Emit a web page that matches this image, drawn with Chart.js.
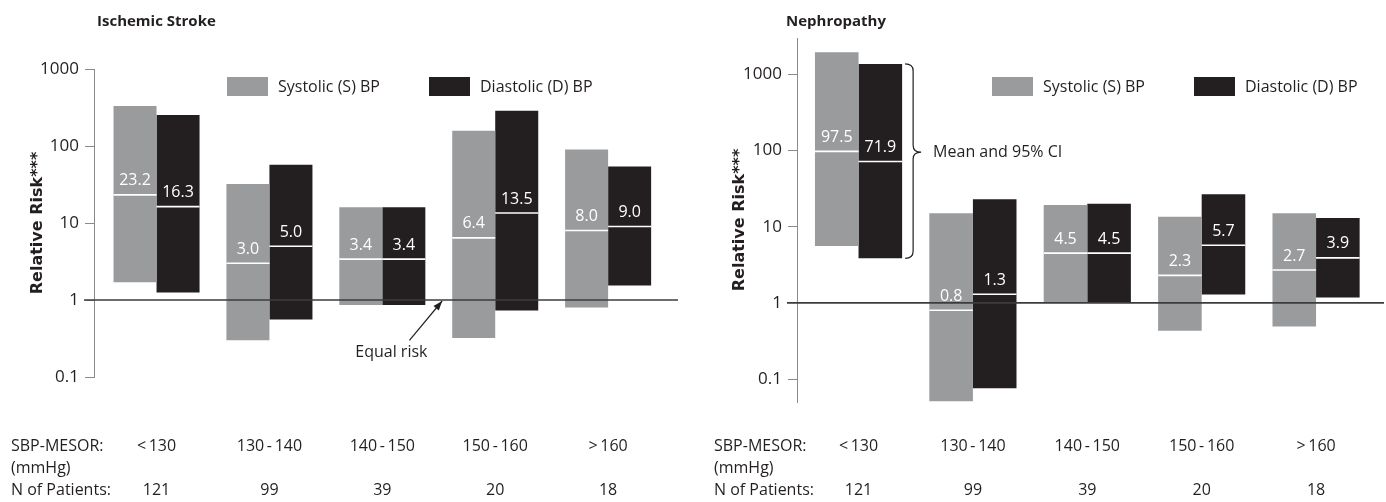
<!DOCTYPE html>
<html>
<head>
<meta charset="utf-8">
<script src="https://cdn.jsdelivr.net/npm/chart.js@4.4.1/dist/chart.umd.min.js"></script>
<style>
  html, body { margin: 0; padding: 0; background: #fff; }
  .fila { display: flex; width: 1386px; height: 502px; }
  canvas { display: block; }
</style>
</head>
<body>
<div class="fila">
  <canvas id="graficoIctus" width="693" height="502"></canvas>
  <canvas id="graficoNefro" width="693" height="502"></canvas>
</div>
<script>
// datos
const categorias = ['<\u2009130', '130\u2009-\u2009140', '140\u2009-\u2009150', '150\u2009-\u2009160', '>\u2009160'];
const pacientes = ['121', '99', '39', '20', '18'];
const ticksY = [0.1, 1, 10, 100, 1000];

// Ictus isquemico: IC 95% [bajo, alto] y media
const ictusSistolicaIC = [[1.7, 330], [0.3, 32], [0.86, 16], [0.32, 158], [0.8, 90]];
const ictusSistolicaMedia = [23.2, 3.0, 3.4, 6.4, 8.0];
const ictusDiastolicaIC = [[1.25, 253], [0.56, 57], [0.86, 16], [0.73, 288], [1.54, 54]];
const ictusDiastolicaMedia = [16.3, 5.0, 3.4, 13.5, 9.0];

// Nefropatia
const nefroSistolicaIC = [[5.6, 1950], [0.051, 15], [1.03, 19.3], [0.43, 13.5], [0.49, 15]];
const nefroSistolicaMedia = [97.5, 0.8, 4.5, 2.3, 2.7];
const nefroDiastolicaIC = [[3.85, 1370], [0.076, 23], [1.03, 20], [1.29, 26.7], [1.18, 13]];
const nefroDiastolicaMedia = [71.9, 1.3, 4.5, 5.7, 3.9];

const GRIS = '#9a9b9d';
const NEGRO = '#231f20';
const TEXTO = '#231f20';
const FUENTE = "'Open Sans', 'Noto Sans', sans-serif";

function puntos(ic) {
    return ic.map((r, i) => ({ x: i, y: r }));
}

// dibuja linea de riesgo 1, medias, leyenda, titulos y textos extra
const extras = {
    id: 'extras',
    afterDatasetsDraw(chart, args, o) {
        const ctx = chart.ctx;
        const sx = chart.scales.x;
        const sy = chart.scales.y;
        const area = chart.chartArea;
        ctx.save();

        // linea de riesgo igual
        const y1 = sy.getPixelForValue(1);
        ctx.strokeStyle = '#3c3c3c';
        ctx.lineWidth = 1.6;
        ctx.beginPath();
        ctx.moveTo(area.left - 10, y1);
        ctx.lineTo(area.right, y1);
        ctx.stroke();

        // medias y etiquetas
        chart.data.datasets.forEach((ds, i) => {
            const meta = chart.getDatasetMeta(i);
            meta.data.forEach((bar, j) => {
                const m = ds.medias[j];
                const ym = sy.getPixelForValue(m);
                ctx.strokeStyle = '#ffffff';
                ctx.lineWidth = 1.6;
                ctx.beginPath();
                ctx.moveTo(bar.x - bar.width / 2, ym);
                ctx.lineTo(bar.x + bar.width / 2, ym);
                ctx.stroke();
                ctx.fillStyle = '#ffffff';
                ctx.font = '16px ' + FUENTE;
                ctx.textAlign = 'center';
                ctx.textBaseline = 'middle';
                ctx.fillText(m.toFixed(1), bar.x, ym - 14);
            });
        });

        // titulo
        ctx.fillStyle = TEXTO;
        ctx.font = 'bold 15px ' + FUENTE;
        ctx.textAlign = 'left';
        ctx.textBaseline = 'middle';
        ctx.fillText(o.titulo, area.left + o.tituloDx, 22);

        // leyenda
        let lx = area.left + o.leyendaDx;
        ctx.font = '16px ' + FUENTE;
        chart.data.datasets.forEach((ds) => {
            ctx.fillStyle = ds.backgroundColor;
            ctx.fillRect(lx, 77, 41, 19);
            ctx.fillStyle = TEXTO;
            ctx.fillText(ds.label, lx + 51, 87);
            lx += 202;
        });

        // rotulos de filas inferiores
        const xr = area.left - 83;
        ctx.fillText('SBP-MESOR:', xr, 446);
        ctx.fillText('(mmHg)', xr, 468);
        ctx.fillText('N of Patients:', xr, 490);

        // anotaciones
        if (o.riesgo) {
            const tx = sx.getPixelForValue(2.53);
            const fx = sx.getPixelForValue(2.24);
            const fy = sy.getPixelForValue(0.3);
            ctx.strokeStyle = TEXTO;
            ctx.lineWidth = 1.2;
            ctx.beginPath();
            ctx.moveTo(fx, fy);
            ctx.lineTo(tx, y1 + 1);
            ctx.stroke();
            const ang = Math.atan2(y1 + 1 - fy, tx - fx);
            ctx.fillStyle = TEXTO;
            ctx.beginPath();
            ctx.moveTo(tx, y1 + 1);
            ctx.lineTo(tx - 10 * Math.cos(ang - 0.35), y1 + 1 - 10 * Math.sin(ang - 0.35));
            ctx.lineTo(tx - 10 * Math.cos(ang + 0.35), y1 + 1 - 10 * Math.sin(ang + 0.35));
            ctx.closePath();
            ctx.fill();
            ctx.textAlign = 'center';
            ctx.fillText('Equal risk', sx.getPixelForValue(2.08), 352);
        }
        if (o.llave) {
            const bar = chart.getDatasetMeta(1).data[0];
            const ic = chart.data.datasets[1].data[0].y;
            const yt = sy.getPixelForValue(ic[1]);
            const yb = sy.getPixelForValue(ic[0]);
            const ymid = sy.getPixelForValue(95);
            const x0 = bar.x + bar.width / 2 + 3;
            const x1 = x0 + 8;
            const xp = x1 + 8;
            ctx.strokeStyle = TEXTO;
            ctx.lineWidth = 1.2;
            ctx.beginPath();
            ctx.moveTo(x0, yt);
            ctx.quadraticCurveTo(x1, yt, x1, yt + 7);
            ctx.lineTo(x1, ymid - 7);
            ctx.quadraticCurveTo(x1, ymid, xp, ymid);
            ctx.quadraticCurveTo(x1, ymid, x1, ymid + 7);
            ctx.lineTo(x1, yb - 7);
            ctx.quadraticCurveTo(x1, yb, x0, yb);
            ctx.stroke();
            ctx.fillStyle = TEXTO;
            ctx.textAlign = 'left';
            ctx.fillText('Mean and 95% CI', xp + 12, ymid);
        }
        ctx.restore();
    }
};

function crearGrafico(id, cfg) {
    const ctx = document.getElementById(id).getContext('2d');
    return new Chart(ctx, {
        type: 'bar',
        data: {
            datasets: [{
                label: 'Systolic (S) BP',
                data: puntos(cfg.sistolica),
                medias: cfg.mediaS,
                backgroundColor: GRIS,
                borderWidth: 0
            }, {
                label: 'Diastolic (D) BP',
                data: puntos(cfg.diastolica),
                medias: cfg.mediaD,
                backgroundColor: NEGRO,
                borderWidth: 0
            }]
        },
        options: {
            responsive: false,
            animation: false,
            categoryPercentage: 0.762,
            barPercentage: 1.0,
            layout: { padding: { top: cfg.arriba, right: cfg.derecha, left: 0, bottom: 0 } },
            plugins: {
                legend: { display: false },
                tooltip: { enabled: false },
                extras: cfg.extras
            },
            scales: {
                x: {
                    type: 'linear',
                    offset: false,
                    min: cfg.xmin,
                    max: cfg.xmax,
                    grid: { display: false, drawTicks: false, offset: false },
                    border: { display: false },
                    afterBuildTicks: (s) => { s.ticks = categorias.map((c, i) => ({ value: i })); },
                    afterFit: (s) => { s.height = cfg.altoX; },
                    ticks: {
                        autoSkip: false,
                        maxRotation: 0,
                        padding: cfg.padX,
                        color: TEXTO,
                        font: { family: FUENTE, size: 16, lineHeight: 1.375 },
                        callback: (v) => [categorias[v], '', pacientes[v]]
                    }
                },
                y: {
                    type: 'logarithmic',
                    min: cfg.ymin,
                    max: cfg.ymax,
                    afterBuildTicks: (s) => { s.ticks = ticksY.map(v => ({ value: v })); },
                    afterFit: (s) => { s.width = cfg.anchoY; },
                    grid: { drawOnChartArea: false, drawTicks: true, tickLength: 9, color: '#8a8a8a' },
                    border: { display: true, color: '#8a8a8a', width: 1 },
                    ticks: {
                        padding: 6,
                        color: TEXTO,
                        font: { family: FUENTE, size: 17 },
                        callback: (v) => String(v)
                    },
                    title: {
                        display: true,
                        text: 'Relative Risk***',
                        color: TEXTO,
                        font: { family: "'DejaVu Sans', sans-serif", size: 16, weight: 'bold' },
                        padding: { top: cfg.padTitulo, bottom: 0 }
                    }
                }
            }
        },
        plugins: [extras]
    });
}

crearGrafico('graficoIctus', {
    sistolica: ictusSistolicaIC, mediaS: ictusSistolicaMedia,
    diastolica: ictusDiastolicaIC, mediaD: ictusDiastolicaMedia,
    ymin: 0.1, ymax: 1000, xmin: -0.554, xmax: 4.619,
    arriba: 69, derecha: 15, altoX: 125, padX: 58, anchoY: 94, padTitulo: 28,
    extras: { titulo: 'Ischemic Stroke', tituloDx: 3, leyendaDx: 133, riesgo: true, llave: false }
});

crearGrafico('graficoNefro', {
    sistolica: nefroSistolicaIC, mediaS: nefroSistolicaMedia,
    diastolica: nefroDiastolicaIC, mediaD: nefroDiastolicaMedia,
    ymin: 0.05, ymax: 3000, xmin: -0.538, xmax: 4.594,
    arriba: 38, derecha: 2, altoX: 100, padX: 33, anchoY: 104, padTitulo: 37,
    extras: { titulo: 'Nephropathy', tituloDx: -11, leyendaDx: 195, riesgo: false, llave: true }
});
</script>
</body>
</html>
